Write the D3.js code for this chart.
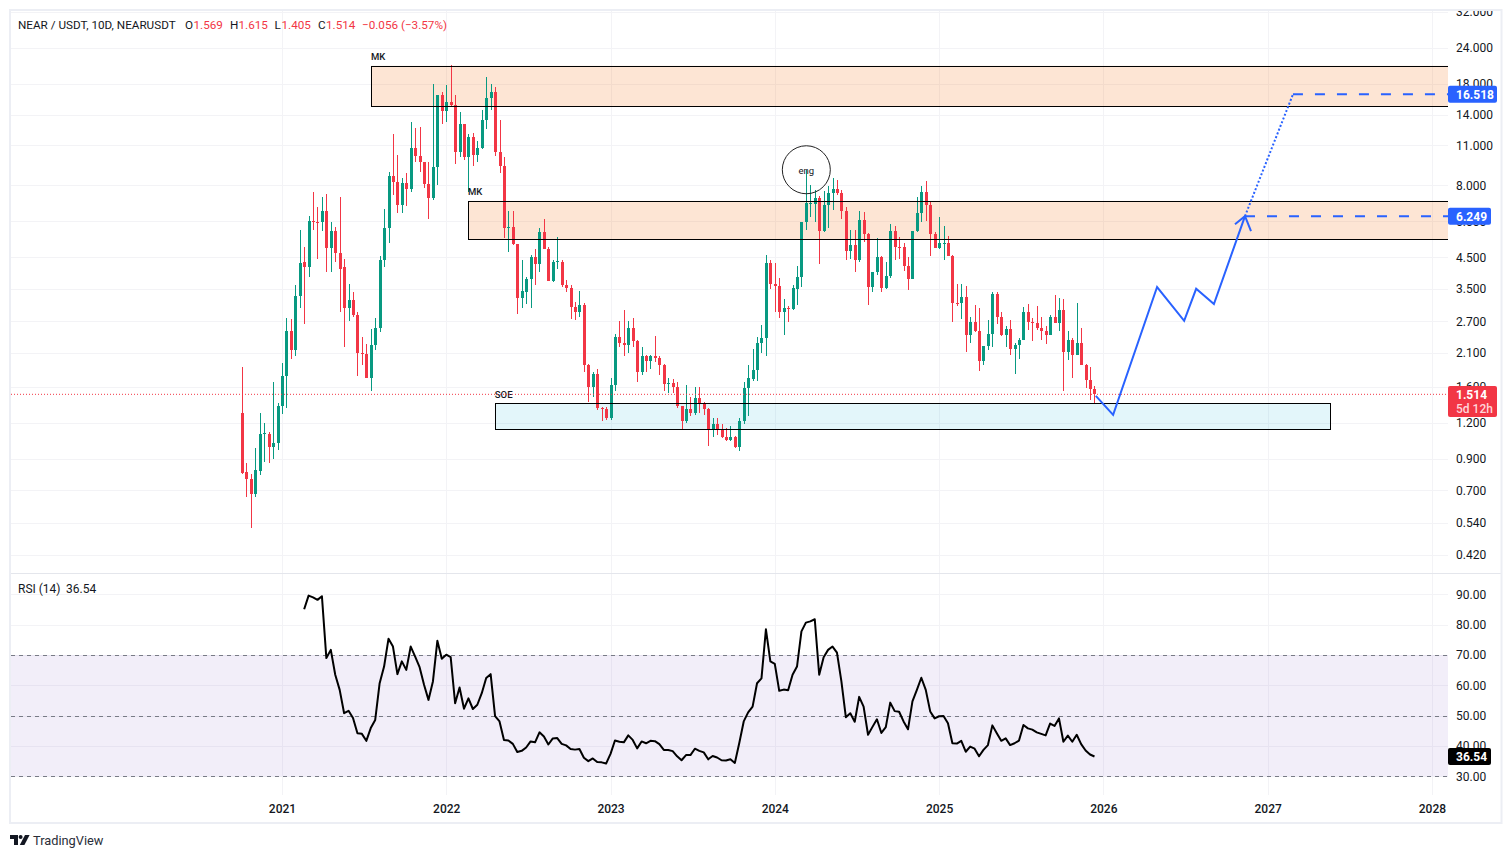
<!DOCTYPE html>
<html><head><meta charset="utf-8">
<script src="https://cdnjs.cloudflare.com/ajax/libs/d3/7.8.5/d3.min.js"></script>
<style>html,body{margin:0;padding:0;background:#fff}svg{display:block}text{font-family:Roboto,sans-serif}</style>
</head><body><div id="c"></div>
<script>
const opens=[1.30,.81,.77,.68,.815,1.10,1.10,.99,1.02,1.37,1.74,2.50,2.15,3.30,4.35,4.15,6.0,5.95,5.95,6.5,4.85,5.55,4.65,4.15,3.0,3.2,2.85,2.1,2.08,1.72,2.24,2.55,4.4,5.7,8.6,8.2,6.85,8.15,7.75,10.8,10.1,9.6,8.1,7.2,9.25,16.4,14.5,15.6,15.2,10.4,13,10,11.8,10.2,10.8,13.5,16,16.9,10.4,9.35,
5.7,5.75,5.0,3.24,3.42,3.78,4.5,4.28,5.5,4.8,3.72,4.35,4.35,3.6,3.52,3.02,2.92,3.08,1.9,1.6,1.78,1.35,1.34,1.25,1.63,2.38,2.28,2.24,2.57,2.3,1.8,2.05,1.97,2.05,2.02,1.9,1.64,1.65,1.6,1.37,
1.22,1.34,1.3,1.46,1.4,1.34,1.13,1.19,1.14,1.07,1.05,1.07,.99,1.22,1.58,1.70,1.83,2.28,2.37,4.3,3.65,3.58,2.92,3.0,2.98,3.5,3.85,5.95,6.93,6.9,7.25,5.55,6.85,7.5,7.75,7.5,6.5,4.75,4.95,4.42,
6.05,5.42,3.55,4.0,4.5,3.52,3.87,5.55,4.9,4.88,4.2,3.8,5.55,6.42,7.6,6.85,5.4,4.85,5.05,5.05,4.55,3.13,3.12,3.27,2.42,2.68,2.5,1.97,2.21,2.45,3.35,2.8,2.42,2.53,2.17,2.23,2.33,2.9,2.68,2.66,
2.55,2.5,2.43,2.8,2.67,2.95,2.12,2.33,2.07,2.27,1.9,1.69,1.569];
const highs=[1.87,.875,.80,.985,1.30,1.20,1.12,1.66,1.41,1.94,2.77,2.75,3.62,5.6,4.9,6.25,7.6,6.7,7.3,7.45,5.95,5.75,7.3,4.45,3.65,3.4,2.9,2.38,2.25,2.53,2.78,4.55,6.6,8.9,12,10.2,8.5,8.8,13.3,12.6,12.7,9.65,9.6,18,16.4,16.8,17.8,20.8,16.4,14.3,13.05,12,12.1,11.4,14.6,19,18,17.5,13.5,10,
6.5,6.5,5.0,4.4,3.85,4.6,4.8,5.7,6.1,4.9,4.4,5.3,4.4,3.75,3.6,3.15,3.43,3.13,1.92,1.8,1.84,1.36,1.36,1.72,2.45,2.7,2.95,2.7,2.77,2.32,2.2,2.06,2.06,2.4,2.05,1.92,1.72,1.7,1.66,1.37,
1.63,1.48,1.6,1.6,1.42,1.35,1.25,1.25,1.19,1.15,1.17,1.08,1.25,1.66,1.9,2.17,2.38,2.62,4.6,4.4,4.3,3.83,3.22,3.05,3.6,4.2,5.95,9.05,8.0,7.7,7.35,7.65,7.95,8.5,8.35,7.7,6.7,5.6,5.6,6.5,
6.45,5.45,4.0,5.25,4.55,4.35,5.85,5.8,5.3,5.05,4.5,5.55,7.3,7.95,8.3,7.0,5.5,6.2,5.8,5.33,4.6,3.63,3.63,3.58,2.79,3.07,3.0,2.22,2.72,3.4,3.4,2.9,2.6,2.73,2.28,2.37,3.03,3.1,2.77,3.05,
2.8,2.6,2.85,3.33,3.25,3.23,2.5,2.37,3.12,2.55,1.92,1.88,1.615];
const lows=[.80,.665,.52,.665,.79,.88,.87,.90,.97,1.29,1.35,2.0,2.04,3.0,2.65,3.85,5.6,4.45,5.55,4.0,4.0,4.35,2.9,2.2,2.7,2.8,1.74,1.9,1.72,1.55,2.15,2.47,4.15,5.05,7.4,6.4,6.4,6.8,7.55,9.6,8.9,7.8,6.1,7.1,8.0,13,13.2,14.9,9.5,10,9.8,7.6,9.3,9.6,10.7,12.5,14.6,10.1,8.85,5.25,
4.7,4.95,2.87,3.0,3.1,3.0,3.6,4.0,4.8,3.72,3.7,4.1,3.55,3.4,2.75,2.73,2.8,1.8,1.42,1.48,1.33,1.22,1.23,1.23,1.55,2.2,2.05,2.1,2.2,1.67,1.76,1.8,1.85,1.95,1.76,1.55,1.53,1.53,1.35,1.13,
1.2,1.27,1.28,1.3,1.28,1.0,1.07,1.09,1.06,1.04,1.04,.98,.96,1.19,1.27,1.68,1.68,2.1,2.05,3.5,2.9,2.78,2.43,2.68,2.95,3.07,3.55,5.6,6.2,5.96,4.28,5.5,5.7,6.55,7.4,6.1,4.4,4.45,4.0,4.35,
5.1,3.08,3.42,3.9,3.4,3.5,3.83,4.42,4.45,4.02,3.48,3.77,5.5,5.95,6.0,4.53,4.85,4.8,4.4,4.55,2.68,3.05,2.75,2.12,2.28,2.47,1.82,1.9,2.14,2.2,2.65,2.4,2.2,2.07,1.78,2.0,2.33,2.52,2.3,2.52,
2.33,2.25,2.43,2.67,2.5,1.55,1.98,1.72,2.07,1.9,1.58,1.44,1.405];
const closes=[.805,.77,.68,.825,1.10,1.105,.99,1.02,1.37,1.74,2.50,2.15,3.30,4.30,4.15,6.0,5.95,5.94,6.5,4.85,5.55,4.65,4.1,3.0,3.2,2.85,2.1,2.08,1.72,2.24,2.55,4.4,5.7,8.6,8.2,6.85,8.15,7.75,10.8,10.1,9.6,8.1,7.2,9.25,16.4,14.5,15.6,15.2,10.4,13,10,11.8,10.2,10.8,13.5,16,16.9,10.4,9.35,5.7,
5.75,5.0,3.24,3.43,3.78,4.5,4.28,5.5,4.8,3.72,4.35,4.36,3.6,3.52,3.02,2.92,3.08,1.9,1.6,1.78,1.35,1.34,1.25,1.63,2.38,2.28,2.24,2.57,2.3,1.8,2.05,1.97,2.05,2.02,1.9,1.64,1.65,1.6,1.37,1.22,
1.34,1.3,1.46,1.4,1.34,1.13,1.19,1.14,1.07,1.05,1.07,.99,1.22,1.58,1.72,1.83,2.28,2.37,4.3,3.65,3.58,2.92,3.0,2.98,3.52,3.85,5.95,6.93,6.95,7.25,5.55,6.85,7.5,7.75,7.5,6.5,4.75,4.95,4.42,6.05,
5.42,3.55,4.0,4.5,3.52,3.87,5.55,4.9,4.88,4.2,3.8,5.55,6.42,7.6,6.85,5.4,4.85,5.05,5.06,4.55,3.13,3.12,3.27,2.42,2.68,2.5,1.97,2.21,2.45,3.35,2.8,2.42,2.53,2.17,2.23,2.33,2.9,2.68,2.66,2.55,
2.5,2.43,2.8,2.67,2.95,2.12,2.33,2.07,2.27,1.9,1.69,1.57,1.514];
const rsiStartBar=14;
const rsiValues=[85.1,89.6,89,88.2,89.4,69,71.7,63.5,58.5,50.8,51.6,49.2,44.2,44,41.7,45.9,48.6,60.7,66.2,75.4,72.8,63.7,67.9,65.1,72.8,69.5,66,60.2,55.2,61.3,74.7,68.8,70.1,69.3,54.1,59.3,52.3,55.7,52.2,53.6,57.4,62.4,63.7,49.85,48.1,42,41.8,40.7,38,38.4,39.5,41.5,41.2,44.5,43.1,40.5,42.5,42.6,40.7,40.2,39,38.8,39,36.1,35,35.9,34.7,34.6,34.2,37.4,41.8,41.4,41.2,43.5,42,39.2,41.5,40.9,41.7,41.6,40.6,38.7,38.7,38.3,36.6,35.3,37,37,39.1,38.4,37.9,35.6,36.7,36.2,35.3,35.2,35.6,34.4,41,48.1,51.1,53,60.7,62.3,78.5,67.9,67.1,58.2,58.6,58.4,63.5,66.2,77.8,80.7,81.1,81.8,63.5,69.3,71.7,72.8,70.8,61.3,49.5,50.8,48,56.2,53,43.7,46.3,48.8,44.3,46.2,54.3,51.5,51.3,48.1,45.5,54.7,58.5,62.5,58.5,51.4,49.1,49.8,49.9,47.5,40.9,40.8,41.7,38.1,39.8,39.1,36.6,38.7,40.3,46.8,44.2,41.7,42.5,40.3,40.9,41.8,46.9,45.8,45.4,44.5,44,43.5,47.4,46.6,49.1,41.4,43.4,41.4,43.7,40.6,38.5,37.2,36.54];
const priceTicks=[32,24,18,14,11,8,6,4.5,3.5,2.7,2.1,1.6,1.2,.9,.7,.54,.42];
const rsiTicks=[90,80,70,60,50,40,30];
const rsiBandLevels=[70,50,30];
const yearBars=[9,46,83,120,157,194,231,268];
const yearLabels=["2021","2022","2023","2024","2025","2026","2027","2028"];
const lastPrice=1.514;
const rsiLast=36.54;
const targets=[16.518,6.249];
const zoneLabels=["MK","MK","SOE"];
const zoneFrom=[29.05,50.9,56.95];
const zoneTo=[null,null,245.1];
const zoneTop=[20.75,7.06,1.405];
const zoneBottom=[15.05,5.2,1.14];
const zoneFills=["rgba(245,124,40,.2)","rgba(245,124,40,.2)","rgba(0,172,210,.11)"];
const engBar=127.1;
const engPrice=9.05;
const pathBars=[192.3,196.2,206.1,212.2,214.9,218.9,225.9];
const pathPrices=[1.49,1.28,3.55,2.71,3.5,3.1,6.249];
const dottedBars=[225.9,236.7];
const dottedPrices=[6.249,16.518];

const W=1512,H=858,L=11,R=1448,PT=11,PB=573,RT=574,RB=795;
const red="#f23645",green="#089981",blue="#2962ff",ink="#131722",grid="#f3f3f6";
const x=d3.scaleLinear().domain([(L-242)/4.44,(R-242)/4.44]).range([L,R]);
const y=d3.scaleLog().domain([32,.42]).range([11.5,554.5]);
const yr=d3.scaleLinear().domain([30,90]).range([776.3,594.4]);
const svg=d3.select("#c").append("svg").attr("width",W).attr("height",H);
const defs=svg.append("defs");
defs.append("clipPath").attr("id","pa").append("rect").attr("x",R).attr("y",PT).attr("width",52).attr("height",PB-PT);
defs.append("clipPath").attr("id","plot").append("rect").attr("x",L).attr("y",PT).attr("width",R-L).attr("height",PB-PT);

// grid
const g=svg.append("g").attr("shape-rendering","crispEdges");
g.selectAll(".h").data(priceTicks).join("line").attr("x1",L).attr("x2",R).attr("y1",d=>Math.round(y(d))+.5).attr("y2",d=>Math.round(y(d))+.5).attr("stroke",grid);
g.selectAll(".r").data(rsiTicks).join("line").attr("x1",L).attr("x2",R).attr("y1",d=>Math.round(yr(d))+.5).attr("y2",d=>Math.round(yr(d))+.5).attr("stroke",grid);
g.selectAll(".v").data(yearBars).join("line").attr("x1",d=>Math.round(x(d))+.5).attr("x2",d=>Math.round(x(d))+.5).attr("y1",PT).attr("y2",RB).attr("stroke",grid);

// zones: fills under the candles, outlines over them
const zones=zoneLabels.map((t,i)=>({t,open:zoneTo[i]==null,a:x(zoneFrom[i]),b:zoneTo[i]==null?R:x(zoneTo[i]),top:y(zoneTop[i]),bot:y(zoneBottom[i]),fill:zoneFills[i]}));
svg.append("g").selectAll("rect").data(zones).join("rect").attr("x",d=>d.a).attr("y",d=>d.top).attr("width",d=>d.b-d.a).attr("height",d=>d.bot-d.top).attr("fill",d=>d.fill);

// candles
const bars=closes.map((c,i)=>({i,o:opens[i],h:highs[i],l:lows[i],c}));
const cg=svg.append("g").attr("shape-rendering","crispEdges");
const cc=d=>d.c>=d.o?green:red;
cg.selectAll(".w").data(bars).join("line").attr("x1",d=>Math.round(x(d.i))+.5).attr("x2",d=>Math.round(x(d.i))+.5).attr("y1",d=>y(d.h)).attr("y2",d=>y(d.l)).attr("stroke",cc);
cg.selectAll(".b").data(bars).join("rect").attr("x",d=>Math.round(x(d.i))-1).attr("width",3).attr("y",d=>y(Math.max(d.o,d.c))).attr("height",d=>Math.max(1,Math.abs(y(d.o)-y(d.c)))).attr("fill",cc);

svg.append("g").attr("clip-path","url(#plot)").attr("fill","none").attr("stroke","#000").attr("shape-rendering","crispEdges").selectAll("rect").data(zones).join("rect").attr("x",d=>Math.round(d.a)+.5).attr("y",d=>Math.round(d.top)+.5).attr("width",d=>Math.round(d.b-d.a)+(d.open?6:0)).attr("height",d=>Math.round(d.bot-d.top));
svg.append("g").selectAll("text").data(zones).join("text").attr("x",d=>d.a).attr("y",d=>d.top-5.5).attr("font-size",9.5).attr("font-weight",500).attr("fill","#131722").text(d=>d.t);

// last price line
svg.append("line").attr("x1",L).attr("x2",R).attr("y1",y(lastPrice)+.5).attr("y2",y(lastPrice)+.5).attr("stroke",red).attr("stroke-dasharray","1 2");

// "eng" circle
svg.append("circle").attr("cx",x(engBar)).attr("cy",y(engPrice)).attr("r",24).attr("fill","none").attr("stroke","#222");
svg.append("text").attr("x",x(engBar)).attr("y",y(engPrice)+4.5).attr("text-anchor","middle").attr("font-size",9.5).attr("fill","#131722").text("eng");

// projection
const ln=d3.line().x(d=>x(d[0])).y(d=>y(d[1]));
svg.append("path").attr("d",ln(pathBars.map((b,i)=>[b,pathPrices[i]]))).attr("fill","none").attr("stroke",blue).attr("stroke-width",2);
svg.append("path").attr("d",ln(dottedBars.map((b,i)=>[b,dottedPrices[i]]))).attr("fill","none").attr("stroke",blue).attr("stroke-width",2).attr("stroke-dasharray","2 2");
const tip=[x(pathBars[6]),y(pathPrices[6])];
svg.append("path").attr("d",`M${tip[0]-10},${tip[1]+8}L${tip[0]},${tip[1]}L${tip[0]+6},${tip[1]+15}`).attr("fill","none").attr("stroke",blue).attr("stroke-width",2);
targets.forEach((t,i)=>{
  svg.append("line").attr("x1",x(dottedBars[1-i])).attr("x2",R).attr("y1",y(t)).attr("y2",y(t)).attr("stroke",blue).attr("stroke-width",2).attr("stroke-dasharray","10 12");
});

// RSI pane
svg.append("rect").attr("x",L).attr("y",yr(70)).attr("width",R-L).attr("height",yr(30)-yr(70)).attr("fill","rgba(126,87,194,.1)");
svg.append("g").attr("shape-rendering","crispEdges").selectAll("line").data(rsiBandLevels).join("line").attr("x1",L).attr("x2",R).attr("y1",d=>Math.round(yr(d))+.5).attr("y2",d=>Math.round(yr(d))+.5).attr("stroke","#787b86").attr("stroke-dasharray","4 4");
svg.append("path").attr("d",d3.line().x((d,i)=>x(i+rsiStartBar)).y(d=>yr(d))(rsiValues)).attr("fill","none").attr("stroke","#000").attr("stroke-width",2).attr("stroke-linejoin","round");

// separators and frame
svg.append("line").attr("x1",L).attr("x2",1501).attr("y1",573.5).attr("y2",573.5).attr("stroke","#e4e6ec");
svg.append("rect").attr("x",10).attr("y",10).attr("width",1491.5).attr("height",813).attr("fill","none").attr("stroke","#eceef4").attr("stroke-width",2);

// axes
const styleAxis=s=>{s.select(".domain").remove();s.selectAll(".tick line").remove();s.selectAll("text").attr("font-size",12).attr("fill",ink).attr("font-family","Roboto, sans-serif");};
svg.append("g").attr("clip-path","url(#pa)").append("g").attr("transform",`translate(${R},0)`).call(d3.axisRight(y).tickValues(priceTicks).tickFormat(d3.format(".3f")).tickSize(0).tickPadding(8)).call(styleAxis);
svg.append("g").attr("transform",`translate(${R},0)`).call(d3.axisRight(yr).tickValues(rsiTicks).tickFormat(d3.format(".2f")).tickSize(0).tickPadding(8)).call(styleAxis);
const ax=svg.append("g").attr("transform",`translate(0,${RB+5})`).call(d3.axisBottom(x).tickValues(yearBars).tickFormat((d,i)=>yearLabels[i]).tickSize(0).tickPadding(4)).call(styleAxis);
ax.selectAll("text").attr("font-weight",500);

// price tags
const tag=(val,w,fill)=>{
  const cy=y(val);
  svg.append("rect").attr("x",R).attr("y",cy-8.5).attr("width",w).attr("height",17).attr("rx",2).attr("fill",fill);
  svg.append("text").attr("x",R+8).attr("y",cy+4.5).attr("font-size",12).attr("font-weight",700).attr("fill","#fff").text(d3.format(".3f")(val));
};
tag(targets[0],49,blue);tag(targets[1],43,blue);
svg.append("rect").attr("x",R).attr("y",386).attr("width",49).attr("height",31).attr("rx",2).attr("fill",red);
svg.append("text").attr("x",R+8).attr("y",399).attr("font-size",12).attr("font-weight",700).attr("fill","#fff").text(d3.format(".3f")(lastPrice));
svg.append("text").attr("x",R+8).attr("y",413).attr("font-size",12).attr("font-weight",500).attr("fill","#ffd5d9").text("5d 12h");
svg.append("rect").attr("x",R).attr("y",yr(rsiLast)-8.5).attr("width",43).attr("height",17).attr("rx",2).attr("fill","#000");
svg.append("text").attr("x",R+8).attr("y",yr(rsiLast)+4.5).attr("font-size",12).attr("font-weight",700).attr("fill","#fff").text(d3.format(".2f")(rsiLast));

// header
const hdr=[["NEAR / USDT, 10D, NEARUSDT",18,ink],["O",185,ink],["1.569",193.5,red],["H",230,ink],["1.615",238.5,red],["L",274.5,ink],["1.405",281.5,red],["C",318,ink],["1.514",326,red],["−0.056 (−3.57%)",362,red]];
svg.append("g").selectAll("text").data(hdr).join("text").attr("x",d=>d[1]).attr("y",28.5).attr("font-size",11.7).attr("fill",d=>d[2]).text(d=>d[0]);
svg.append("text").attr("x",18).attr("y",592.5).attr("font-size",12).attr("fill",ink).text("RSI (14)");
svg.append("text").attr("x",66).attr("y",592.5).attr("font-size",12).attr("fill",ink).text(d3.format(".2f")(rsiLast));

// logo
const lg=svg.append("g").attr("fill","#131722");
lg.append("path").attr("d","M10 835H18V845H14V839H10Z");
lg.append("circle").attr("cx",20.6).attr("cy",837).attr("r",2);
lg.append("path").attr("d","M25 835H29.6L24.4 845H19.8Z");
svg.append("text").attr("x",33).attr("y",845).attr("font-size",12.8).attr("fill","#2a2e39").text("TradingView");
</script></body></html>
